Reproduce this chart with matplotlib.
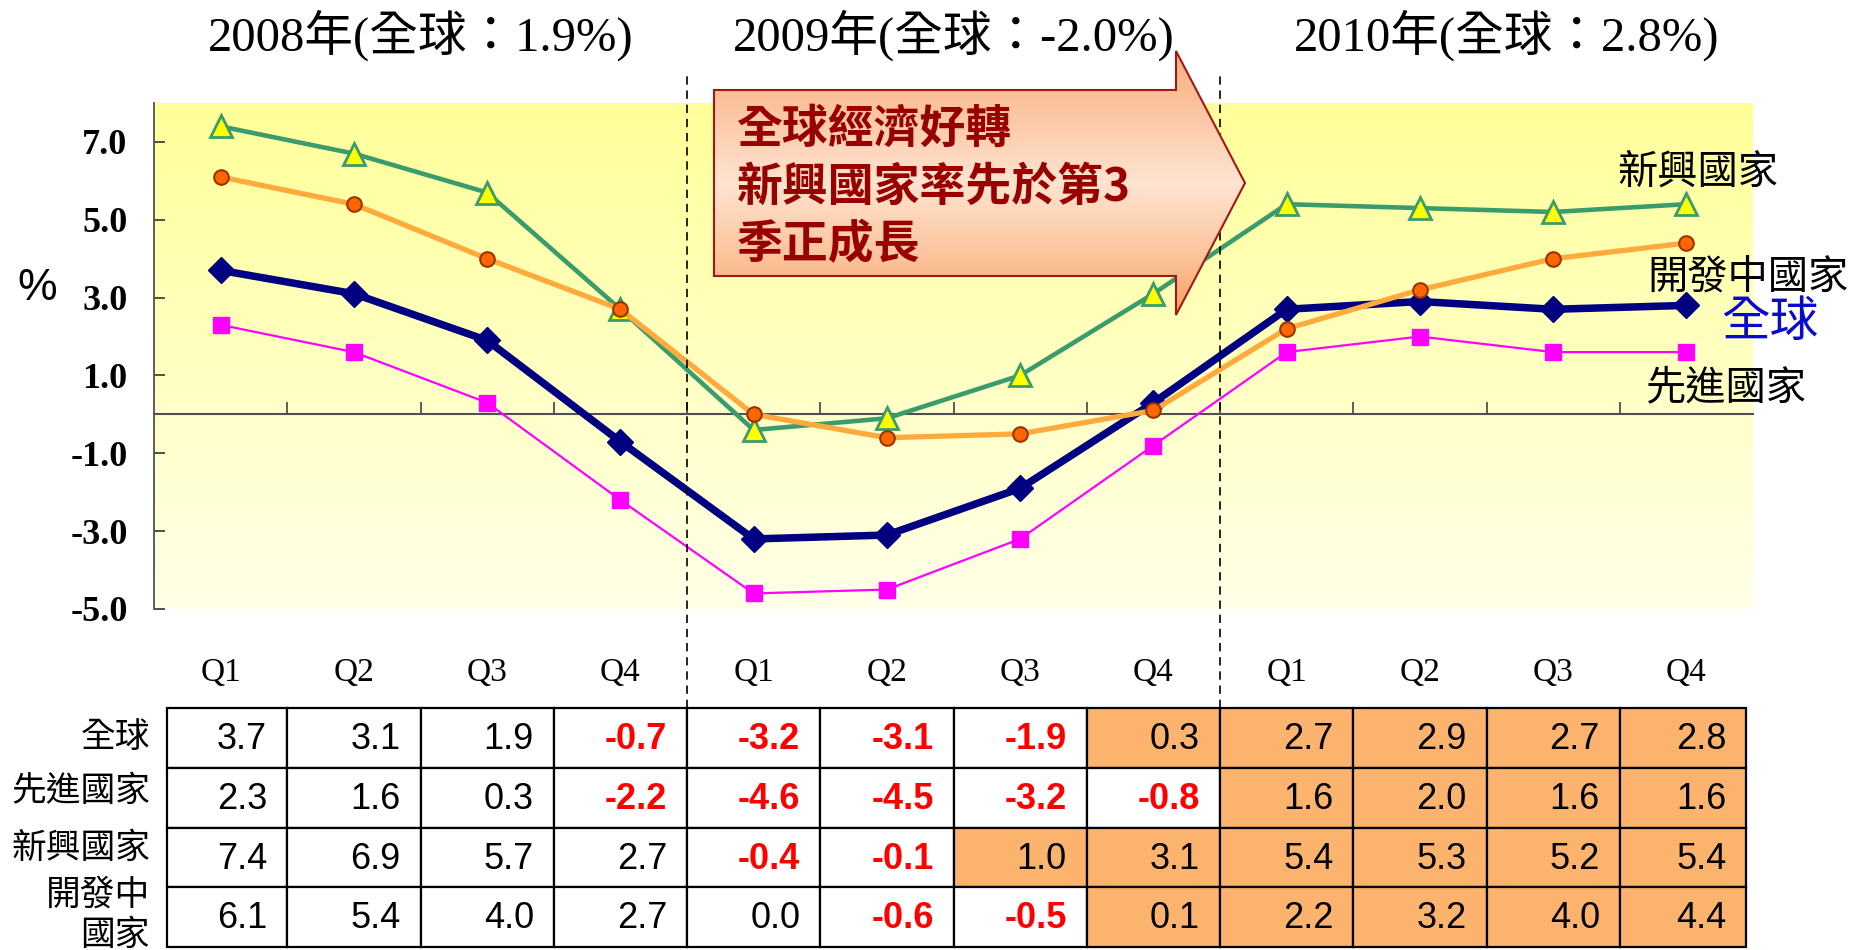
import numpy as np
import matplotlib
matplotlib.use('Agg')
import matplotlib.pyplot as plt
from matplotlib.patches import Polygon, Rectangle
from matplotlib.colors import LinearSegmentedColormap

# ---------------- data ----------------
quarters = ['Q1', 'Q2', 'Q3', 'Q4'] * 3
year_titles = ['2008年(全球：1.9%)', '2009年(全球：-2.0%)', '2010年(全球：2.8%)']
row_labels = ['全球', '先進國家', '新興國家', '開發中\n國家']
world = [3.7, 3.1, 1.9, -0.7, -3.2, -3.1, -1.9, 0.3, 2.7, 2.9, 2.7, 2.8]
advanced = [2.3, 1.6, 0.3, -2.2, -4.6, -4.5, -3.2, -0.8, 1.6, 2.0, 1.6, 1.6]
emerging = [7.4, 6.9, 5.7, 2.7, -0.4, -0.1, 1.0, 3.1, 5.4, 5.3, 5.2, 5.4]
developing = [6.1, 5.4, 4.0, 2.7, 0.0, -0.6, -0.5, 0.1, 2.2, 3.2, 4.0, 4.4]
# values as drawn on the line chart (emerging Q2 2008 drawn lower than table)
emerging_line = [7.4, 6.7, 5.7, 2.7, -0.4, -0.1, 1.0, 3.1, 5.4, 5.3, 5.2, 5.4]
yticks = [7.0, 5.0, 3.0, 1.0, -1.0, -3.0, -5.0]
callout_lines = ['全球經濟好轉', '新興國家率先於第3', '季正成長']
series_labels = ['新興國家', '開發中國家', '全球', '先進國家']

CJK = 'Noto Sans CJK TC'
W, H = 1857, 950
fig = plt.figure(figsize=(W / 100, H / 100), dpi=100)

# ---------------- main chart ----------------
ax = fig.add_axes([154 / W, 1 - 609 / H, (1753 - 154) / W, (609 - 103) / H])
x = np.arange(len(quarters))
grad = np.linspace(0, 1, 256).reshape(-1, 1)
bg_cmap = LinearSegmentedColormap.from_list('bg', ['#FFFF99', '#FFFFE8'])
ax.imshow(grad, extent=[-0.5, 11.5, -5, 8], aspect='auto', cmap=bg_cmap,
          zorder=0, origin='upper')
ax.set_xlim(-0.5, 11.5)
ax.set_ylim(-5, 8)

for s in ['top', 'right']:
    ax.spines[s].set_visible(False)
ax.spines['left'].set_color('#505050')
ax.spines['left'].set_linewidth(1.3)
ax.spines['bottom'].set_position(('data', 0))
ax.spines['bottom'].set_color('#505050')
ax.spines['bottom'].set_linewidth(1.5)

ax.set_yticks(yticks)
ax.set_yticklabels([f'{v:.1f}' for v in yticks])
ax.tick_params(axis='y', direction='in', length=8, width=1.2, color='#333333',
               pad=19, labelsize=26)
for lab in ax.get_yticklabels():
    lab.set_fontfamily('Liberation Serif')
    lab.set_fontweight('bold')
ax.set_xticks(np.arange(0.5, 11, 1))
ax.tick_params(axis='x', direction='in', length=9, width=1.3, color='#505050',
               labelbottom=False)

ax.plot(x, advanced, color='#FF00FF', lw=1.6, marker='s', ms=11,
        mfc='#FF00FF', mec='#FF00FF', zorder=3)
ax.plot(x, emerging_line, color='#3A9B6D', lw=3.3, marker='^', ms=16,
        mfc='#FFFF00', mec='#3A9B6D', mew=2, zorder=4)
ax.plot(x, world, color='#000080', lw=5.4, marker='D', ms=13.5,
        mfc='#000080', mec='#000080', zorder=5)
ax.plot(x, developing, color='#FFAA3C', lw=3.8, marker='o', ms=10.5,
        mfc='#FF6600', mec='#993300', mew=1.5, zorder=6)

for i, q in enumerate(quarters):
    ax.text(i, -6.65, q, ha='center', va='center', fontsize=24,
            family='Liberation Serif', clip_on=False)

title_x = [1.5, 5.5, 9.65]
for tx, t in zip(title_x, year_titles):
    ax.text(tx, 9.75, t, ha='center', va='center', fontsize=35,
            family=['Liberation Serif', CJK], clip_on=False)

ax.vlines([3.5, 7.5], -7.55, 8.72, colors='black', linestyles=(0, (5, 3.5)),
          lw=1.2, clip_on=False, zorder=7)

# ---------------- overlay (annotations, callout) ----------------
ov = fig.add_axes([0, 0, 1, 1], zorder=5)
ov.set_xlim(0, W)
ov.set_ylim(H, 0)
ov.axis('off')
ov.patch.set_visible(False)

ov.text(37, 288, '%', ha='center', va='center', fontsize=32,
        family='Liberation Sans')

ov.text(1698, 172, series_labels[0], ha='center', va='center', fontsize=29, family=CJK)
ov.text(1748, 277, series_labels[1], ha='center', va='center', fontsize=29, family=CJK)
ov.text(1770, 322, series_labels[2], ha='center', va='center', fontsize=35,
        family=CJK, color='#0A0ACC')
ov.text(1726, 388, series_labels[3], ha='center', va='center', fontsize=29, family=CJK)

pts = [(714, 90), (1176, 90), (1176, 51), (1245, 183), (1176, 315), (1176, 276), (714, 276)]
poly = Polygon(pts, closed=True, facecolor='none', edgecolor='#A01818', lw=1.5, zorder=3)
ov.add_patch(poly)
arrow_cmap = LinearSegmentedColormap.from_list(
    'arr', [(0, '#F9AE7C'), (0.2, '#FBC29E'), (0.5, '#FFE4D0'), (0.8, '#FBC197'), (1, '#F6A060')])
gimg = ov.imshow(grad, extent=[714, 1245, 315, 51], aspect='auto', cmap=arrow_cmap,
                 origin='upper', zorder=2)
gimg.set_clip_path(poly)
ov.set_xlim(0, W)
ov.set_ylim(H, 0)
for k, line in enumerate(callout_lines):
    ov.text(737, 130 + 57.5 * k, line, ha='left', va='center', fontsize=33,
            family=[CJK], weight='bold', color='#990000', zorder=4)

# ---------------- table ----------------
tab = fig.add_axes([154 / W, 1 - 947 / H, (1753 - 154) / W, (947 - 708) / H])
tab.set_xlim(-0.5, 11.5)
tab.set_ylim(0, 4)
tab.axis('off')
edges = [-0.4] + [i + 0.5 for i in range(11)] + [11.45]
table_rows = [world, advanced, emerging, developing]
for r, vals in enumerate(table_rows):
    y0 = 3 - r
    for c, v in enumerate(vals):
        shade = '#FBB36E' if (c >= 4 and v > 0) else 'white'
        tab.add_patch(Rectangle((edges[c], y0), edges[c + 1] - edges[c], 1,
                                facecolor=shade, edgecolor='black', lw=1.6,
                                clip_on=False))
        neg = v < 0
        tab.text(edges[c + 1] - 0.15, y0 + 0.47, f'{v:.1f}', ha='right', va='center',
                 fontsize=26, family='Liberation Sans',
                 weight='bold' if neg else 'normal',
                 color='#FF0000' if neg else 'black')

label_y = [3.5, 2.6, 1.65, 0.53]
for lab, ly in zip(row_labels, label_y):
    tab.text(-0.53, ly, lab, ha='right', va='center', fontsize=25, family=CJK,
             multialignment='right', linespacing=1.2, clip_on=False)

fig.savefig('out.png', dpi=100)
